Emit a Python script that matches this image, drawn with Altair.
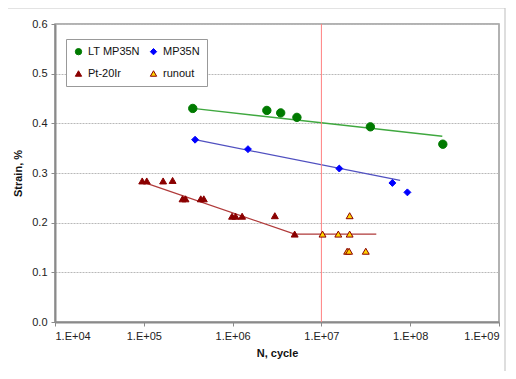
import altair as alt
import pandas as pd

# ---- data ----
series_names = ["LT MP35N", "MP35N", "Pt-20Ir", "runout"]

lt_N = [3.56e5, 2.43e6, 3.48e6, 5.3e6, 3.56e7, 2.33e8]
lt_strain = [0.430, 0.426, 0.421, 0.412, 0.393, 0.358]

mp_N = [3.78e5, 1.49e6, 1.59e7, 6.3e7, 9.3e7]
mp_strain = [0.367, 0.348, 0.309, 0.280, 0.261]

pt_N = [9.6e4, 1.08e5, 1.65e5, 2.11e5, 2.73e5, 2.95e5, 4.38e5, 4.74e5,
        9.86e5, 1.08e6, 1.28e6, 2.99e6, 5.0e6]
pt_strain = [0.284, 0.284, 0.284, 0.285, 0.248, 0.248, 0.248, 0.248,
             0.213, 0.213, 0.213, 0.214, 0.177]

ro_N = [1.03e7, 1.55e7, 2.08e7, 2.08e7, 1.95e7, 2.05e7, 3.16e7]
ro_strain = [0.177, 0.177, 0.177, 0.214, 0.1425, 0.1425, 0.1425]

# trend lines
lt_line_N = [3.56e5, 2.3e8]
lt_line_strain = [0.430, 0.374]
mp_line_N = [3.78e5, 7.7e7]
mp_line_strain = [0.367, 0.285]
pt_line_N = [1.0e5, 5.0e6, 4.15e7]
pt_line_strain = [0.281, 0.177, 0.177]

vline_N = [1e7]

x_ticks = [1e4, 1e5, 1e6, 1e7, 1e8, 1e9]

# ---- tables ----
rows = []
for name, Ns, ss in [("LT MP35N", lt_N, lt_strain), ("MP35N", mp_N, mp_strain),
                     ("Pt-20Ir", pt_N, pt_strain), ("runout", ro_N, ro_strain)]:
    for n, s in zip(Ns, ss):
        rows.append({"N": n, "strain": s, "series": name})
pts = pd.DataFrame(rows)

FONT = "Liberation Sans"

xscale = alt.Scale(type="log", domain=[1e4, 1e9])
yscale = alt.Scale(domain=[0, 0.6])

xenc = alt.X("N:Q", scale=xscale, title="N, cycle",
             axis=alt.Axis(values=x_ticks, grid=False,
                           labelExpr="'1.E+0' + round(log(datum.value)/LN10)"))
yenc = alt.Y("strain:Q", scale=yscale, title="Strain, %",
             axis=alt.Axis(values=[0, 0.1, 0.2, 0.3, 0.4, 0.5, 0.6], format=".1f",
                           grid=True, gridDash=[2, 1], gridColor="#b8b8b8"))


def line_layer(Ns, ss, color):
    d = pd.DataFrame({"N": Ns, "strain": ss})
    return alt.Chart(d).mark_line(color=color, strokeWidth=1.3).encode(
        x=alt.X("N:Q", scale=xscale), y=alt.Y("strain:Q", scale=yscale))


frame = alt.Chart(pd.DataFrame({"a": [0]})).mark_rect(
    fill=None, stroke="#c8c8c8", strokeWidth=1.2, clip=False
).encode(x=alt.value(-48), x2=alt.value(450), y=alt.value(-16), y2=alt.value(380))

vline = alt.Chart(pd.DataFrame({"N": vline_N})).mark_rule(
    color="#ff8080", strokeWidth=1).encode(x=alt.X("N:Q", scale=xscale))

leg = alt.Legend(title=None, columns=2, direction="horizontal", orient="none",
                 legendX=11, legendY=15)

points = alt.Chart(pts).mark_point(filled=True, opacity=1, strokeWidth=1).encode(
    x=xenc, y=yenc,
    shape=alt.Shape("series:N", scale=alt.Scale(
        domain=series_names,
        range=["circle", "diamond", "triangle-up", "triangle-up"]), legend=leg),
    fill=alt.Fill("series:N", scale=alt.Scale(
        domain=series_names,
        range=["#007a00", "#0000ff", "#8b0000", "#ffd400"]), legend=leg),
    stroke=alt.Stroke("series:N", scale=alt.Scale(
        domain=series_names,
        range=["#007a00", "#0000ff", "#8b0000", "#8b0000"]), legend=leg),
    size=alt.condition("datum.series == 'LT MP35N'", alt.value(70), alt.value(48)),
)

chart = alt.layer(
    frame,
    line_layer(lt_line_N, lt_line_strain, "#3fa83f"),
    line_layer(mp_line_N, mp_line_strain, "#5050c0"),
    line_layer(pt_line_N, pt_line_strain, "#b03a3a"),
    vline,
    points,
).properties(
    width=444, height=298,
    autosize=alt.AutoSizeParams(type="none"),
    padding={"left": 47, "top": 16, "right": 9, "bottom": 49},
).configure(font=FONT).configure_view(
    stroke="#999999", strokeWidth=1.5
).configure_axis(
    labelFont=FONT, titleFont=FONT, labelFontSize=11, titleFontSize=11,
    labelColor="#222", titleColor="#111", titleFontWeight="bold",
    domainColor="#8a8a8a", domainWidth=2, tickColor="#8a8a8a", tickSize=4,
    labelPadding=4,
).configure_axisX(titlePadding=6).configure_axisY(titlePadding=8).configure_legend(
    labelFont=FONT, labelFontSize=11, labelColor="#111",
    strokeColor="#999999", fillColor="white", padding=7,
    rowPadding=10, columnPadding=8, symbolSize=40, symbolStrokeWidth=1,
    labelLimit=80,
)

chart.save("out.html", embed_options={"renderer": "svg", "actions": False})
